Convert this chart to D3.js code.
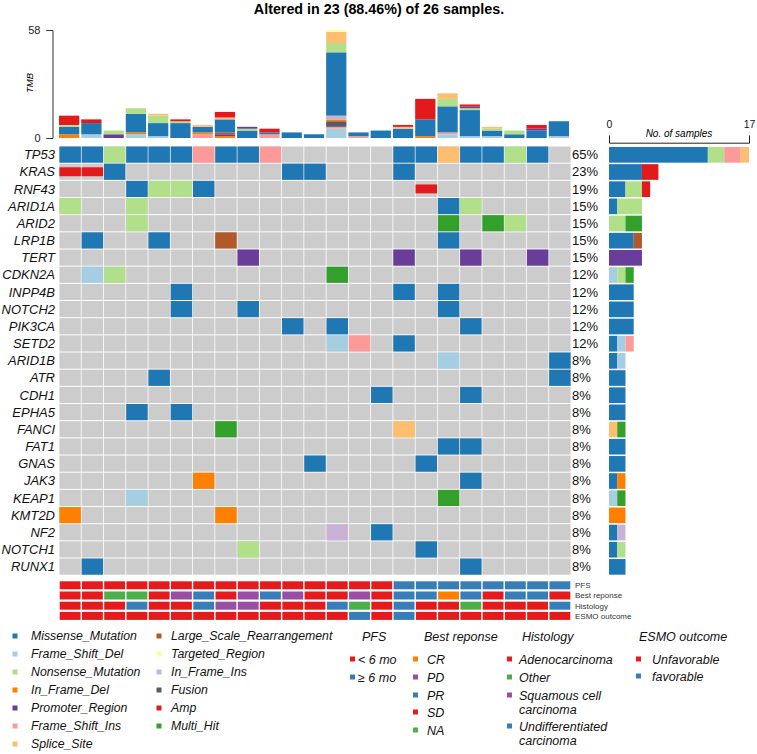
<!DOCTYPE html>
<html><head><meta charset="utf-8">
<script src="https://cdn.jsdelivr.net/npm/d3@7"></script>
<style>body{margin:0;background:#fff;} text{font-family:"Liberation Sans",Arial,sans-serif;}</style>
</head><body><svg id="c" width="757" height="754"></svg>
<script>
// ---------------- DATA ----------------
const totalSamples = 26;
const samples = d3.range(23).map(i => "S" + (i + 1));
const genes = ["TP53","KRAS","RNF43","ARID1A","ARID2","LRP1B","TERT","CDKN2A","INPP4B","NOTCH2","PIK3CA","SETD2",
  "ARID1B","ATR","CDH1","EPHA5","FANCI","FAT1","GNAS","JAK3","KEAP1","KMT2D","NF2","NOTCH1","RUNX1"];
const classCodes = ["MS","FSD","NS","IFD","PR","FSI","SS","LSR","TR","IFI","FUS","AMP","MH"];
const classNames = ["Missense_Mutation","Frame_Shift_Del","Nonsense_Mutation","In_Frame_Del","Promoter_Region","Frame_Shift_Ins","Splice_Site",
  "Large_Scale_Rearrangement","Targeted_Region","In_Frame_Ins","Fusion","Amp","Multi_Hit"];
const classColors = ["#1F78B4","#A6CEE3","#B2DF8A","#FF7F00","#6A3D9A","#FB9A99","#FDBF6F",
  "#B15928","#FFFF99","#CAB2D6","#535C68","#E31A1C","#33A02C"];
const barOrder = ["MS","FSD","NS","FSI","SS","IFD","IFI","LSR","TR","FUS","PR","AMP","MH"];

// [gene, sample index, class]
const alterations = [
 ["TP53",0,"MS"],["TP53",1,"MS"],["TP53",2,"NS"],["TP53",3,"MS"],["TP53",4,"MS"],["TP53",5,"MS"],["TP53",6,"FSI"],["TP53",7,"MS"],
 ["TP53",8,"MS"],["TP53",9,"FSI"],["TP53",15,"MS"],["TP53",16,"MS"],["TP53",17,"SS"],["TP53",18,"MS"],["TP53",19,"MS"],["TP53",20,"NS"],["TP53",21,"MS"],
 ["KRAS",0,"AMP"],["KRAS",1,"AMP"],["KRAS",2,"MS"],["KRAS",10,"MS"],["KRAS",11,"MS"],["KRAS",15,"MS"],
 ["RNF43",3,"MS"],["RNF43",4,"NS"],["RNF43",5,"NS"],["RNF43",6,"MS"],["RNF43",16,"AMP"],
 ["ARID1A",0,"NS"],["ARID1A",3,"NS"],["ARID1A",17,"MS"],["ARID1A",18,"NS"],
 ["ARID2",3,"NS"],["ARID2",17,"MH"],["ARID2",19,"MH"],["ARID2",20,"NS"],
 ["LRP1B",1,"MS"],["LRP1B",4,"MS"],["LRP1B",7,"LSR"],["LRP1B",17,"MS"],
 ["TERT",8,"PR"],["TERT",15,"PR"],["TERT",18,"PR"],["TERT",21,"PR"],
 ["CDKN2A",1,"FSD"],["CDKN2A",2,"NS"],["CDKN2A",12,"MH"],
 ["INPP4B",5,"MS"],["INPP4B",15,"MS"],["INPP4B",17,"MS"],
 ["NOTCH2",5,"MS"],["NOTCH2",8,"MS"],["NOTCH2",17,"MS"],
 ["PIK3CA",10,"MS"],["PIK3CA",12,"MS"],["PIK3CA",18,"MS"],
 ["SETD2",12,"FSD"],["SETD2",13,"FSI"],["SETD2",15,"MS"],
 ["ARID1B",17,"FSD"],["ARID1B",22,"MS"],
 ["ATR",4,"MS"],["ATR",22,"MS"],
 ["CDH1",14,"MS"],["CDH1",18,"MS"],
 ["EPHA5",3,"MS"],["EPHA5",5,"MS"],
 ["FANCI",7,"MH"],["FANCI",15,"SS"],
 ["FAT1",17,"MS"],["FAT1",18,"MS"],
 ["GNAS",11,"MS"],["GNAS",16,"MS"],
 ["JAK3",6,"IFD"],["JAK3",18,"MS"],
 ["KEAP1",3,"FSD"],["KEAP1",17,"MH"],
 ["KMT2D",0,"IFD"],["KMT2D",7,"IFD"],
 ["NF2",12,"IFI"],["NF2",14,"MS"],
 ["NOTCH1",8,"NS"],["NOTCH1",16,"MS"],
 ["RUNX1",1,"MS"],["RUNX1",18,"MS"]
];

// TMB stacks per sample, bottom -> top: [class, count]
const tmbStacks = [
 [["IFD",2],["MS",4],["NS",1],["AMP",5]],
 [["FSD",2],["MS",6],["AMP",2]],
 [["PR",2],["NS",2]],
 [["FSD",2],["IFD",1],["MS",10],["NS",3]],
 [["FSD",1],["MS",7],["NS",4],["SS",1]],
 [["MS",8],["NS",1],["AMP",1]],
 [["FSI",2],["IFD",1],["MS",3],["SS",1]],
 [["IFD",1],["PR",1],["LSR",1],["MS",7],["SS",1],["AMP",3]],
 [["MS",4],["NS",1],["PR",1]],
 [["FSI",2],["MS",1],["AMP",2]],
 [["MS",3]],
 [["MS",2]],
 [["FSD",5],["FSI",1],["FUS",3],["IFD",1],["IFI",2],["MS",34],["NS",5],["SS",6],["TR",1]],
 [["FSI",1],["MS",2]],
 [["MS",4]],
 [["MS",5],["SS",1],["AMP",1]],
 [["IFD",1],["MS",9],["AMP",11]],
 [["FSD",2],["FSI",1],["MS",14],["NS",4],["SS",3]],
 [["FSD",1],["MS",14],["NS",1],["PR",1],["AMP",1]],
 [["FSD",1],["MS",3],["NS",1],["SS",1]],
 [["MS",2],["NS",2]],
 [["MS",4],["PR",1],["AMP",2]],
 [["FSD",1],["MS",8]]
];
const tmbMax = 58;
const barMax = 17;

// Clinical annotation tracks
const trackNames = ["PFS","Best reponse","Histology","ESMO outcome"];
const pfs = ["<6","<6","<6","<6","<6","<6","<6","<6","<6","<6","<6","<6","<6","<6","<6",">=6",">=6",">=6",">=6",">=6",">=6",">=6",">=6"];
const bestResponse = ["SD","SD","NA","NA","SD","PD","PR","SD","PD","PR","PD","SD","SD","PD","SD","PR","PR","CR","PR","SD","PR","PR","SD"];
const histology = ["Adeno","Adeno","Adeno","Undiff","Adeno","Adeno","Undiff","Squam","Squam","Adeno","Adeno","Adeno","Undiff","Other","Adeno",
  "Undiff","Adeno","Adeno","Other","Adeno","Adeno","Adeno","Undiff"];
const esmo = ["Unfav","Unfav","Unfav","Unfav","Unfav","Unfav","Unfav","Unfav","Unfav","Unfav","Unfav","Unfav","Unfav","Fav","Unfav","Fav",
  "Unfav","Unfav","Unfav","Unfav","Unfav","Unfav","Unfav"];
const pfsLevels = ["<6",">=6"], pfsLabels = ["< 6 mo","\u2265 6 mo"], pfsColors = ["#E41A1C","#377EB8"];
const brLevels = ["CR","PD","PR","SD","NA"], brLabels = ["CR","PD","PR","SD","NA"], brColors = ["#FF7F00","#984EA3","#377EB8","#E41A1C","#4DAF4A"];
const hiLevels = ["Adeno","Other","Squam","Undiff"], hiLabels = [["Adenocarcinoma"],["Other"],["Squamous cell","carcinoma"],["Undifferentiated","carcinoma"]],
      hiColors = ["#E41A1C","#4DAF4A","#984EA3","#377EB8"];
const esLevels = ["Unfav","Fav"], esLabels = ["Unfavorable","favorable"], esColors = ["#E41A1C","#377EB8"];

// ---------------- DRAW ----------------
const svg = d3.select("#c");
const colorOf = d3.scaleOrdinal(classCodes, classColors);
const x = d3.scaleBand(samples, [59, 571]);
const y = d3.scaleBand(genes, [146, 575.2]);
const bw = x.bandwidth(), bh = y.bandwidth();

// title
svg.append("text").attr("x", 379).attr("y", 13.5).attr("text-anchor","middle")
  .attr("font-size", 14.3).attr("font-weight","bold").text("Altered in 23 (88.46%) of 26 samples.");

// TMB bars
const yT = d3.scaleLinear([0, tmbMax], [138, 30]);
const gT = svg.append("g");
tmbStacks.forEach((stack, i) => {
  let acc = 0;
  stack.forEach(([c, v]) => {
    gT.append("rect").attr("x", x(samples[i])).attr("width", bw - 2)
      .attr("y", yT(acc + v)).attr("height", yT(acc) - yT(acc + v)).attr("fill", colorOf(c));
    acc += v;
  });
});
const axT = svg.append("g").attr("transform","translate(52.5,0)")
  .call(d3.axisLeft(yT).tickValues([0, tmbMax]).tickSize(6).tickPadding(6));
axT.select(".domain").attr("stroke","#333");
axT.selectAll(".tick line").attr("stroke","#333");
axT.selectAll("text").attr("font-size", 11).attr("font-family","Liberation Sans, Arial").attr("fill","#222");
svg.append("text").attr("transform","translate(32.5,83) rotate(-90)").attr("text-anchor","middle")
  .attr("font-size", 9.5).attr("font-style","italic").text("TMB");

// Grid background
const gG = svg.append("g");
genes.forEach(g => samples.forEach(s => {
  gG.append("rect").attr("x", x(s) + 0.4).attr("y", y(g) + 0.5).attr("width", bw - 0.8).attr("height", bh - 1)
    .attr("fill", "#CCCCCC");
}));
alterations.forEach(([g, i, c]) => {
  const isCnv = c === "AMP";
  const h = isCnv ? bh * 0.52 : bh - 1;
  gG.append("rect").attr("x", x(samples[i]) + 0.4).attr("y", y(g) + (bh - h) / 2).attr("width", bw - 0.8).attr("height", h)
    .attr("fill", colorOf(c));
});

// gene labels and percentages
genes.forEach(g => {
  const n = new Set(alterations.filter(a => a[0] === g).map(a => a[1])).size;
  svg.append("text").attr("x", 55).attr("y", y(g) + bh / 2).attr("dy","0.36em").attr("text-anchor","end")
    .attr("font-size", 13).attr("font-style","italic").attr("fill","#111").text(g);
  svg.append("text").attr("x", 572).attr("y", y(g) + bh / 2).attr("dy","0.36em")
    .attr("font-size", 13).attr("fill","#111").text(Math.round(n / totalSamples * 100) + "%");
});

// right bar chart
const xB = d3.scaleLinear([0, barMax], [609, 749]);
genes.forEach(g => {
  const counts = d3.rollup(alterations.filter(a => a[0] === g), v => v.length, d => d[2]);
  let acc = 0;
  barOrder.forEach(c => {
    const v = counts.get(c) || 0;
    if (!v) return;
    svg.append("rect").attr("x", xB(acc)).attr("width", xB(acc + v) - xB(acc))
      .attr("y", y(g) + 1).attr("height", bh - 1.5).attr("fill", colorOf(c));
    acc += v;
  });
});
const axB = svg.append("g").attr("transform","translate(0,142.7)")
  .call(d3.axisTop(xB).tickValues([0, barMax]).tickSize(7).tickPadding(8));
axB.select(".domain").attr("stroke","#222");
axB.selectAll(".tick line").attr("stroke","#222");
axB.selectAll("text").attr("font-size", 10.5).attr("font-family","Liberation Sans, Arial").attr("fill","#111");
svg.append("text").attr("x", 679).attr("y", 136.5).attr("text-anchor","middle")
  .attr("font-size", 10).attr("font-style","italic").text("No. of samples");

// annotation tracks
const tracks = [
  [pfs, d3.scaleOrdinal(pfsLevels, pfsColors)],
  [bestResponse, d3.scaleOrdinal(brLevels, brColors)],
  [histology, d3.scaleOrdinal(hiLevels, hiColors)],
  [esmo, d3.scaleOrdinal(esLevels, esColors)]
];
const yA = d3.scaleBand(trackNames, [580.5, 621.3]);
tracks.forEach(([vals, sc], t) => {
  vals.forEach((v, i) => {
    svg.append("rect").attr("x", x(samples[i]) + 0.7).attr("width", bw - 1.4)
      .attr("y", yA(trackNames[t]) + 0.8).attr("height", yA.bandwidth() - 2.2).attr("fill", sc(v));
  });
  svg.append("text").attr("x", 575).attr("y", yA(trackNames[t]) + yA.bandwidth() / 2).attr("dy","0.33em")
    .attr("font-size", 8).attr("fill","#333").text(trackNames[t]);
});

// mutation legend
const legCols = [classCodes.slice(0, 7), classCodes.slice(7)];
const legX = [[12.5, 31], [156.5, 171]];
legCols.forEach((col, ci) => col.forEach((c, r) => {
  const cy = 636 + r * 18;
  svg.append("rect").attr("x", legX[ci][0]).attr("y", cy - 2.5).attr("width", 5).attr("height", 5).attr("fill", colorOf(c));
  svg.append("text").attr("x", legX[ci][1]).attr("y", cy).attr("dy","0.36em").attr("font-size", 12.3)
    .attr("font-style","italic").attr("fill","#111").text(classNames[classCodes.indexOf(c)]);
}));

// clinical legends
function clinLegend(title, tx, sqx, txtx, items, colors, ys) {
  svg.append("text").attr("x", tx).attr("y", 641).attr("font-size", 12.5).attr("font-style","italic").attr("fill","#111").text(title);
  items.forEach((lab, k) => {
    const cy = ys[k];
    svg.append("rect").attr("x", sqx).attr("y", cy - 2.5).attr("width", 5).attr("height", 5).attr("fill", colors[k]);
    const lines = Array.isArray(lab) ? lab : [lab];
    lines.forEach((ln, j) => {
      svg.append("text").attr("x", txtx).attr("y", cy + j * 14).attr("dy","0.36em").attr("font-size", 12.5)
        .attr("font-style","italic").attr("fill","#111").text(ln);
    });
  });
}
clinLegend("PFS", 362, 350, 358, pfsLabels, pfsColors, [659, 677]);
clinLegend("Best reponse", 424, 413, 427, brLabels, brColors, [659, 677, 695, 712, 730]);
clinLegend("Histology", 522, 507, 519, hiLabels, hiColors, [659, 677, 695, 726]);
clinLegend("ESMO outcome", 639, 636, 652, esLabels, esColors, [659, 676]);
</script></body></html>
